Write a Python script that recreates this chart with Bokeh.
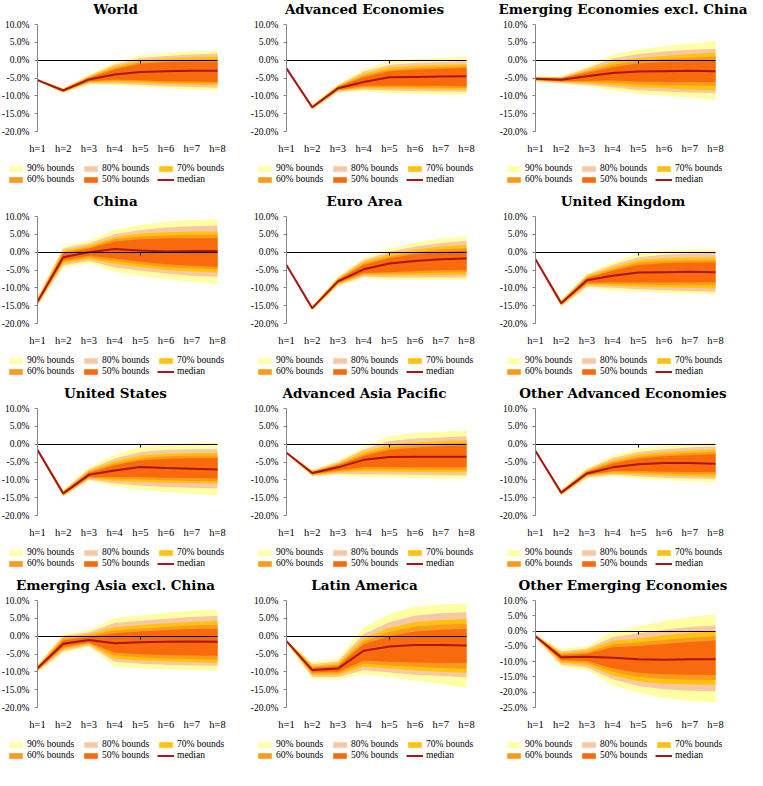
from bokeh.plotting import figure
from bokeh.layouts import gridplot
from bokeh.models import (Range1d, FixedTicker, PrintfTickFormatter, Label, LinearAxis,
                          Legend, LegendItem, ColumnDataSource)
from bokeh.embed import file_html
from bokeh.resources import INLINE

# ---------------- data (values in percent) ----------------
horizons = ["h=1", "h=2", "h=3", "h=4", "h=5", "h=6", "h=7", "h=8"]
h_pos = [1, 2, 3, 4, 5, 6, 7, 8]
levels = [90, 80, 70, 60, 50]
yticks_std = [10, 5, 0, -5, -10, -15, -20]
yticks_wide = [10, 5, 0, -5, -10, -15, -20, -25]

titles = ["World", "Advanced Economies", "Emerging Economies excl. China",
          "China", "Euro Area", "United Kingdom",
          "United States", "Advanced Asia Pacific", "Other Advanced Economies",
          "Emerging Asia excl. China", "Latin America", "Other Emerging Economies"]

# World
world_med = [-5.6, -8.5, -5.4, -4.0, -3.3, -3.1, -3.0, -3.0]
world_lo90 = [-6.0, -9.3, -6.8, -7.0, -7.4, -7.9, -8.2, -8.5]
world_hi90 = [-5.2, -7.7, -4.0, -0.6, 1.3, 2.0, 2.5, 2.7]
world_lo80 = [-5.9, -9.1, -6.5, -6.6, -6.9, -7.3, -7.5, -7.7]
world_hi80 = [-5.3, -7.9, -4.4, -1.2, 0.6, 1.2, 1.6, 1.9]
world_lo70 = [-5.8, -8.9, -6.3, -6.2, -6.4, -6.7, -6.9, -7.0]
world_hi70 = [-5.4, -8.1, -4.6, -1.7, -0.1, 0.4, 0.8, 1.0]
world_lo60 = [-5.75, -8.8, -6.1, -5.8, -6.0, -6.3, -6.4, -6.5]
world_hi60 = [-5.45, -8.2, -4.8, -2.2, -0.6, -0.2, 0.1, 0.2]
world_lo50 = [-5.7, -8.7, -5.9, -5.4, -5.6, -5.9, -6.0, -6.1]
world_hi50 = [-5.5, -8.3, -5.0, -2.6, -1.0, -0.6, -0.4, -0.5]

# Advanced Economies
adv_med = [-2.3, -13.2, -7.9, -6.1, -4.8, -4.7, -4.6, -4.5]
adv_lo90 = [-2.6, -14.0, -9.0, -8.8, -9.2, -9.4, -9.6, -9.7]
adv_hi90 = [-2.0, -12.5, -6.8, -2.5, -0.3, 0.3, 0.7, 0.9]
adv_lo80 = [-2.55, -13.8, -8.8, -8.3, -8.5, -8.7, -8.8, -8.9]
adv_hi80 = [-2.05, -12.7, -7.0, -3.2, -1.3, -0.8, -0.5, -0.3]
adv_lo70 = [-2.5, -13.6, -8.6, -7.9, -8.0, -8.1, -8.2, -8.3]
adv_hi70 = [-2.1, -12.8, -7.2, -3.8, -2.0, -1.6, -1.3, -1.1]
adv_lo60 = [-2.45, -13.5, -8.4, -7.5, -7.5, -7.6, -7.7, -7.8]
adv_hi60 = [-2.15, -12.9, -7.4, -4.3, -2.6, -2.2, -1.9, -1.7]
adv_lo50 = [-2.4, -13.4, -8.3, -7.2, -7.1, -7.2, -7.2, -7.3]
adv_hi50 = [-2.2, -13.0, -7.5, -4.8, -3.1, -2.7, -2.4, -2.2]

# Emerging Economies excl. China
emx_med = [-5.2, -5.5, -4.5, -3.6, -3.2, -3.1, -3.0, -3.1]
emx_lo90 = [-6.1, -6.6, -7.3, -8.5, -9.5, -10.0, -10.5, -11.1]
emx_hi90 = [-4.5, -4.5, -1.8, 1.6, 3.0, 3.9, 4.6, 5.3]
emx_lo80 = [-5.9, -6.4, -6.9, -7.6, -8.4, -8.8, -9.1, -9.3]
emx_hi80 = [-4.7, -4.7, -2.3, 0.5, 1.7, 2.4, 2.9, 3.2]
emx_lo70 = [-5.7, -6.2, -6.5, -7.0, -7.6, -7.9, -8.2, -8.4]
emx_hi70 = [-4.8, -4.9, -2.8, -0.5, 0.6, 1.2, 1.7, 2.1]
emx_lo60 = [-5.6, -6.0, -6.1, -6.3, -6.8, -7.0, -7.1, -7.2]
emx_hi60 = [-4.9, -5.0, -3.2, -1.3, -0.2, 0.3, 0.7, 1.0]
emx_lo50 = [-5.5, -5.9, -5.8, -5.7, -6.0, -6.1, -6.1, -6.1]
emx_hi50 = [-5.0, -5.1, -3.5, -2.0, -0.9, -0.5, -0.3, -0.2]

# China
chn_med = [-13.9, -1.4, 0.0, 0.9, 0.5, 0.2, 0.3, 0.3]
chn_lo90 = [-15.3, -4.3, -3.2, -5.5, -6.6, -7.5, -8.3, -8.9]
chn_hi90 = [-12.5, 1.6, 3.3, 6.2, 7.6, 8.5, 9.0, 9.2]
chn_lo80 = [-15.0, -3.7, -2.5, -4.3, -5.2, -6.0, -6.6, -6.9]
chn_hi80 = [-12.8, 1.0, 2.5, 5.0, 6.2, 6.9, 7.3, 7.4]
chn_lo70 = [-14.7, -3.2, -1.9, -3.3, -4.2, -5.0, -5.4, -5.7]
chn_hi70 = [-13.1, 0.5, 1.9, 4.2, 5.2, 5.6, 5.8, 5.8]
chn_lo60 = [-14.4, -2.7, -1.4, -2.5, -3.4, -4.2, -4.5, -4.8]
chn_hi60 = [-13.4, 0.0, 1.4, 3.6, 4.4, 4.7, 4.9, 4.9]
chn_lo50 = [-14.2, -2.3, -1.0, -1.8, -2.7, -3.4, -3.8, -4.1]
chn_hi50 = [-13.6, -0.4, 1.0, 3.0, 3.6, 3.9, 3.9, 3.9]

# Euro Area
ea_med = [-3.6, -15.7, -8.2, -4.8, -3.2, -2.5, -2.0, -1.8]
ea_lo90 = [-3.9, -16.5, -9.6, -7.2, -7.7, -7.8, -7.8, -7.8]
ea_hi90 = [-3.3, -15.0, -6.8, -1.6, 1.0, 2.7, 3.8, 4.4]
ea_lo80 = [-3.85, -16.3, -9.3, -6.8, -7.1, -7.1, -7.1, -7.1]
ea_hi80 = [-3.35, -15.2, -7.1, -2.2, 0.1, 1.6, 2.6, 3.2]
ea_lo70 = [-3.8, -16.1, -9.0, -6.4, -6.5, -6.5, -6.4, -6.3]
ea_hi70 = [-3.4, -15.3, -7.4, -2.7, -0.6, 0.7, 1.6, 2.1]
ea_lo60 = [-3.75, -16.0, -8.8, -6.1, -6.0, -5.9, -5.7, -5.6]
ea_hi60 = [-3.45, -15.4, -7.6, -3.2, -1.2, 0.0, 0.8, 1.2]
ea_lo50 = [-3.7, -15.9, -8.6, -5.8, -5.6, -5.3, -5.1, -5.0]
ea_hi50 = [-3.5, -15.5, -7.8, -3.6, -1.7, -0.6, 0.1, 0.4]

# United Kingdom
uk_med = [-2.0, -14.3, -7.9, -6.6, -5.7, -5.6, -5.5, -5.6]
uk_lo90 = [-2.3, -15.4, -10.0, -10.7, -11.1, -11.4, -11.6, -11.8]
uk_hi90 = [-1.7, -13.3, -5.9, -2.8, -0.3, 0.4, 0.7, 0.9]
uk_lo80 = [-2.25, -15.1, -9.6, -10.0, -10.4, -10.7, -10.9, -11.1]
uk_hi80 = [-1.75, -13.5, -6.3, -3.6, -1.4, -0.7, -0.4, -0.2]
uk_lo70 = [-2.2, -14.9, -9.2, -9.4, -9.7, -9.9, -10.0, -10.2]
uk_hi70 = [-1.8, -13.7, -6.7, -4.2, -2.3, -1.7, -1.5, -1.4]
uk_lo60 = [-2.15, -14.7, -8.9, -8.9, -9.1, -9.2, -9.3, -9.3]
uk_hi60 = [-1.85, -13.9, -7.0, -4.8, -3.0, -2.5, -2.3, -2.3]
uk_lo50 = [-2.1, -14.6, -8.6, -8.4, -8.5, -8.5, -8.5, -8.4]
uk_hi50 = [-1.9, -14.0, -7.3, -5.2, -3.6, -3.1, -2.9, -2.9]

# United States
us_med = [-1.6, -13.8, -8.6, -7.4, -6.4, -6.7, -6.9, -7.1]
us_lo90 = [-1.9, -14.8, -10.2, -11.9, -12.8, -13.4, -13.9, -14.3]
us_hi90 = [-1.3, -12.8, -6.5, -3.0, -0.7, -0.1, 0.3, 0.6]
us_lo80 = [-1.85, -14.6, -9.9, -11.0, -11.6, -12.0, -12.2, -12.4]
us_hi80 = [-1.35, -13.0, -7.0, -4.0, -2.2, -1.6, -1.4, -1.4]
us_lo70 = [-1.8, -14.4, -9.6, -10.3, -10.6, -10.8, -10.9, -11.0]
us_hi70 = [-1.4, -13.2, -7.4, -4.8, -3.2, -2.7, -2.5, -2.5]
us_lo60 = [-1.75, -14.2, -9.4, -9.7, -9.9, -10.1, -10.3, -10.4]
us_hi60 = [-1.45, -13.4, -7.7, -5.4, -4.0, -3.4, -3.2, -3.2]
us_lo50 = [-1.7, -14.1, -9.2, -9.2, -9.2, -9.4, -9.5, -9.6]
us_hi50 = [-1.5, -13.5, -8.0, -5.9, -4.6, -4.1, -3.9, -3.9]

# Advanced Asia Pacific
aap_med = [-2.4, -8.1, -6.5, -4.4, -3.6, -3.5, -3.5, -3.5]
aap_lo90 = [-2.7, -9.1, -8.7, -9.2, -9.3, -9.5, -9.6, -9.7]
aap_hi90 = [-2.1, -7.2, -4.6, -0.7, 2.2, 3.1, 3.5, 3.8]
aap_lo80 = [-2.65, -8.9, -8.3, -8.4, -8.5, -8.6, -8.7, -8.8]
aap_hi80 = [-2.15, -7.4, -5.0, -1.5, 0.9, 1.6, 1.9, 2.2]
aap_lo70 = [-2.6, -8.7, -7.9, -7.6, -7.7, -7.8, -7.9, -7.9]
aap_hi70 = [-2.2, -7.6, -5.4, -2.2, -0.1, 0.5, 0.9, 1.1]
aap_lo60 = [-2.55, -8.5, -7.6, -7.0, -7.0, -7.1, -7.2, -7.2]
aap_hi60 = [-2.25, -7.7, -5.7, -2.8, -0.9, -0.3, 0.1, 0.4]
aap_lo50 = [-2.5, -8.4, -7.3, -6.4, -6.4, -6.5, -6.5, -6.5]
aap_hi50 = [-2.3, -7.8, -5.9, -3.3, -1.6, -1.0, -0.6, -0.4]

# Other Advanced Economies
oae_med = [-1.9, -13.6, -8.2, -6.5, -5.6, -5.3, -5.3, -5.5]
oae_lo90 = [-2.2, -14.5, -9.6, -9.0, -9.6, -10.1, -10.4, -10.7]
oae_hi90 = [-1.6, -12.7, -6.6, -3.2, -1.3, -0.4, 0.1, 0.4]
oae_lo80 = [-2.15, -14.3, -9.3, -8.6, -9.0, -9.4, -9.6, -9.8]
oae_hi80 = [-1.65, -12.9, -7.0, -3.9, -2.2, -1.4, -0.9, -0.6]
oae_lo70 = [-2.1, -14.1, -9.0, -8.2, -8.5, -8.8, -9.0, -9.2]
oae_hi70 = [-1.7, -13.1, -7.3, -4.5, -2.9, -2.2, -1.8, -1.5]
oae_lo60 = [-2.05, -14.0, -8.8, -7.8, -8.0, -8.2, -8.4, -8.5]
oae_hi60 = [-1.75, -13.2, -7.6, -5.0, -3.5, -2.9, -2.5, -2.2]
oae_lo50 = [-2.0, -13.9, -8.6, -7.5, -7.5, -7.7, -7.8, -7.8]
oae_hi50 = [-1.8, -13.3, -7.8, -5.4, -4.0, -3.4, -3.1, -2.8]

# Emerging Asia excl. China
eax_med = [-9.0, -2.1, -1.1, -2.0, -1.7, -1.6, -1.5, -1.6]
eax_lo90 = [-10.2, -4.7, -3.0, -8.5, -9.0, -9.3, -9.5, -9.7]
eax_hi90 = [-8.0, 0.6, 1.7, 5.1, 5.8, 6.6, 7.1, 7.4]
eax_lo80 = [-9.9, -4.2, -2.6, -7.2, -7.7, -8.0, -8.2, -8.3]
eax_hi80 = [-8.2, 0.1, 1.1, 3.7, 4.3, 4.9, 5.4, 5.7]
eax_lo70 = [-9.7, -3.7, -2.3, -6.3, -6.8, -7.1, -7.3, -7.5]
eax_hi70 = [-8.4, -0.4, 0.6, 2.5, 3.1, 3.6, 4.0, 4.3]
eax_lo60 = [-9.5, -3.3, -2.0, -5.4, -5.9, -6.2, -6.4, -6.6]
eax_hi60 = [-8.6, -0.8, 0.2, 1.6, 2.1, 2.6, 3.0, 3.2]
eax_lo50 = [-9.3, -3.0, -1.8, -4.6, -5.1, -5.3, -5.4, -5.5]
eax_hi50 = [-8.7, -1.2, -0.2, 0.8, 1.3, 1.7, 2.0, 2.1]

# Latin America
lat_med = [-1.4, -9.5, -9.1, -4.1, -2.9, -2.5, -2.5, -2.6]
lat_lo90 = [-1.8, -12.0, -12.2, -10.6, -11.5, -12.4, -13.4, -14.5]
lat_hi90 = [-1.0, -7.2, -6.3, 2.4, 6.2, 8.3, 8.9, 9.2]
lat_lo80 = [-1.7, -11.4, -11.5, -9.5, -10.2, -10.8, -11.2, -11.6]
lat_hi80 = [-1.1, -7.8, -7.0, 0.6, 3.9, 5.8, 6.4, 6.7]
lat_lo70 = [-1.65, -10.9, -10.9, -8.6, -9.1, -9.6, -10.0, -10.3]
lat_hi70 = [-1.15, -8.3, -7.6, -0.6, 2.3, 4.0, 4.5, 4.8]
lat_lo60 = [-1.6, -10.5, -10.4, -7.7, -8.2, -8.6, -8.9, -9.2]
lat_hi60 = [-1.2, -8.6, -8.0, -1.5, 1.2, 2.7, 3.2, 3.5]
lat_lo50 = [-1.5, -10.1, -10.0, -6.8, -7.2, -7.4, -7.5, -7.5]
lat_hi50 = [-1.3, -8.9, -8.4, -2.3, 0.0, 1.3, 1.8, 2.1]

# Other Emerging Economies
oee_med = [-1.7, -8.6, -8.4, -8.7, -9.2, -9.4, -9.2, -9.2]
oee_lo90 = [-2.3, -11.7, -12.8, -17.6, -20.2, -21.8, -22.9, -23.4]
oee_hi90 = [-1.2, -5.9, -4.9, -0.1, 1.5, 3.3, 4.6, 5.5]
oee_lo80 = [-2.2, -11.0, -11.9, -15.8, -18.0, -19.0, -19.5, -19.7]
oee_hi80 = [-1.3, -6.6, -5.7, -1.9, -0.7, 0.4, 1.3, 1.8]
oee_lo70 = [-2.1, -10.4, -11.1, -14.5, -16.4, -17.2, -17.5, -17.6]
oee_hi70 = [-1.4, -7.1, -6.3, -3.2, -2.4, -1.4, -0.6, -0.1]
oee_lo60 = [-2.0, -9.9, -10.4, -13.3, -15.0, -15.6, -15.9, -16.0]
oee_hi60 = [-1.5, -7.5, -6.9, -4.3, -3.7, -2.9, -2.2, -1.7]
oee_lo50 = [-1.9, -9.4, -9.8, -12.2, -13.6, -14.1, -14.3, -14.4]
oee_hi50 = [-1.6, -7.9, -7.4, -5.3, -4.9, -4.2, -3.6, -3.1]

# ---------------- styling / layout ----------------
G = globals()
prefixes = ["world", "adv", "emx", "chn", "ea", "uk", "us", "aap", "oae", "eax", "lat", "oee"]

BAND_COLORS = {90: "#FFFFA3", 80: "#F8C8A6", 70: "#FFC20E", 60: "#F99B1C", 50: "#F96A0C"}
MEDIAN_COLOR = "#A8151C"
AXIS_GRAY = "#868686"
SERIF = "Liberation Serif"

W, H = 249, 192                 # one panel
PL, PR, PT, PB = 37, 32, 24, 61  # plot-area margins inside a panel (px)
PW, PH = W - PL - PR, H - PT - PB


def make_panel(idx):
    pre = prefixes[idx]
    title = titles[idx]
    wide = pre == "oee"
    ymin = -25 if wide else -20
    ymax = 10
    yticks = yticks_wide if wide else yticks_std

    data = dict(x=h_pos, med=G[pre + "_med"])
    for lvl in levels:
        data["lo%d" % lvl] = G["%s_lo%d" % (pre, lvl)]
        data["hi%d" % lvl] = G["%s_hi%d" % (pre, lvl)]
    src = ColumnDataSource(data)

    # the frame covers the whole panel; ranges are widened so that the
    # chart area (h=1..h=8, ymin..ymax) sits where the margins say
    xppu = PW / (h_pos[-1] - h_pos[0])
    yppu = PH / (ymax - ymin)
    xr = Range1d(h_pos[0] - PL / xppu, h_pos[-1] + PR / xppu)
    yr = Range1d(ymin - PB / yppu, ymax + PT / yppu)

    p = figure(width=W, height=H, x_range=xr, y_range=yr,
               output_backend="svg", toolbar_location=None,
               min_border_left=0, min_border_right=0,
               min_border_top=0, min_border_bottom=0)
    p.outline_line_color = None
    p.xgrid.visible = False
    p.ygrid.visible = False
    p.background_fill_color = "white"

    items = []
    for lvl in levels:
        r = p.varea(x="x", y1="lo%d" % lvl, y2="hi%d" % lvl, source=src,
                    fill_color=BAND_COLORS[lvl], fill_alpha=1.0)
        items.append(LegendItem(label="%d%% bounds" % lvl, renderers=[r]))
    m = p.line("x", "med", source=src, line_color=MEDIAN_COLOR, line_width=2)
    items.append(LegendItem(label="median", renderers=[m]))

    # y axis at h=1
    yax = p.yaxis[0]
    yax.fixed_location = h_pos[0]
    yax.bounds = (ymin, ymax)
    yax.ticker = FixedTicker(ticks=yticks)
    yax.formatter = PrintfTickFormatter(format="%.1f%%")
    yax.axis_line_color = AXIS_GRAY
    yax.major_tick_line_color = AXIS_GRAY
    yax.major_tick_out = 3
    yax.major_tick_in = 0
    yax.minor_tick_line_color = None
    yax.major_label_text_font = SERIF
    yax.major_label_text_font_size = "9.5px"
    yax.major_label_text_color = "black"
    yax.major_label_standoff = 5

    # category labels along the bottom of the chart area
    xax = p.xaxis[0]
    xax.fixed_location = ymin
    xax.ticker = FixedTicker(ticks=h_pos)
    xax.major_label_overrides = {k: v for k, v in zip(h_pos, horizons)}
    xax.axis_line_color = None
    xax.major_tick_line_color = None
    xax.minor_tick_line_color = None
    xax.major_label_text_font = SERIF
    xax.major_label_text_font_size = "10.5px"
    xax.major_label_text_color = "black"
    xax.major_label_standoff = 5

    # horizontal axis line crossing at zero (with its single tick mark)
    zax = LinearAxis(fixed_location=0, bounds=(h_pos[0], h_pos[-1]),
                     ticker=FixedTicker(ticks=[h_pos[4]]),
                     major_label_overrides={h_pos[4]: ""},
                     major_label_text_font_size="0px",
                     axis_line_color="black", axis_line_width=1,
                     major_tick_line_color="black", major_tick_in=0, major_tick_out=3,
                     minor_tick_line_color=None)
    p.add_layout(zax, "below")

    # legend: two rows of three entries below the chart area
    common = dict(orientation="horizontal", border_line_color=None,
                  background_fill_alpha=0, padding=0, margin=0, spacing=0,
                  glyph_width=17, glyph_height=7, label_standoff=3,
                  label_width=55, label_height=9,
                  label_text_font=SERIF, label_text_font_size="9.5px",
                  label_text_color="black")
    leg1 = Legend(items=items[:3], location=(7, 19), **common)
    leg2 = Legend(items=items[3:], location=(7, 8), **common)
    p.add_layout(leg1, "center")
    p.add_layout(leg2, "center")

    # title
    col = idx % 3
    cx = 115 if col < 2 else 124.5
    p.add_layout(Label(x=cx, y=H - 8, x_units="screen", y_units="screen",
                       text=title, text_align="center", text_baseline="middle",
                       text_font="DejaVu Serif", text_font_style="bold",
                       text_font_size="13.5px", text_color="black"))
    return p


figs = [make_panel(i) for i in range(12)]
grid = gridplot(figs, ncols=3, toolbar_location=None)

open("out.html", "w").write(file_html(grid, INLINE))
